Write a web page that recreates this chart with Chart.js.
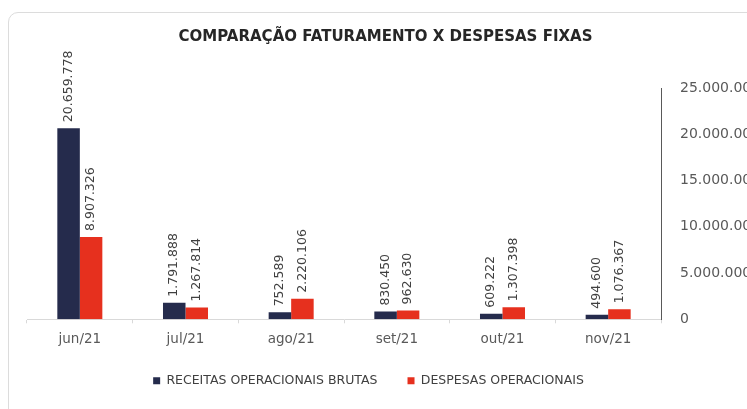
<!DOCTYPE html>
<html>
<head>
<meta charset="utf-8">
<script src="https://cdn.jsdelivr.net/npm/chart.js@4.4.1/dist/chart.umd.min.js"></script>
<style>
  html, body { margin: 0; padding: 0; background: #fff; overflow: hidden; }
  .card {
    position: absolute; left: 8px; top: 12px; width: 800px; height: 430px;
    border: 1px solid #dcdcdc; border-radius: 10px; background: #fff;
  }
  #chart { position: absolute; left: 0; top: 0; }
</style>
</head>
<body>
<div class="card"></div>
<canvas id="chart" width="780" height="409"></canvas>
<script>
// Data
const months = ['jun/21', 'jul/21', 'ago/21', 'set/21', 'out/21', 'nov/21'];
const receitas = [20659778, 1791888, 752589, 830450, 609222, 494600];
const despesas = [8907326, 1267814, 2220106, 962630, 1307398, 1076367];
const yTicks = [0, 5000000, 10000000, 15000000, 20000000, 25000000];

const fmt = v => String(v).replace(/\B(?=(\d{3})+(?!\d))/g, '.');

// Vertical value labels above each bar
const barLabels = {
    id: 'barLabels',
    afterDatasetsDraw(chart) {
        const ctx = chart.ctx;
        ctx.save();
        ctx.font = '12.5px "DejaVu Sans"';
        ctx.fillStyle = '#404040';
        ctx.textAlign = 'left';
        ctx.textBaseline = 'middle';
        chart.data.datasets.forEach((ds, i) => {
            chart.getDatasetMeta(i).data.forEach((bar, j) => {
                ctx.save();
                ctx.translate(bar.x, bar.y - 6);
                ctx.rotate(-Math.PI / 2);
                ctx.fillText(fmt(ds.data[j]), 0, 0);
                ctx.restore();
            });
        });
        ctx.restore();
    }
};

// title and legend sit a bit left of the plot centre in the original
const boxShift = {
    id: 'boxShift',
    afterLayout(chart) {
        chart.titleBlock.left -= 18;
        chart.titleBlock.right -= 18;
        chart.legend.left -= 35;
        chart.legend.right -= 35;
        chart.legend.top -= 11;
        chart.legend.bottom -= 11;
    }
};

new Chart(document.getElementById('chart'), {
    type: 'bar',
    data: {
        labels: months,
        datasets: [
            {
                label: 'RECEITAS OPERACIONAIS BRUTAS',
                data: receitas,
                backgroundColor: '#252b4c'
            },
            {
                label: 'DESPESAS OPERACIONAIS',
                data: despesas,
                backgroundColor: '#e6301e'
            }
        ]
    },
    options: {
        responsive: false,
        animation: false,
        categoryPercentage: 0.426,
        barPercentage: 1,
        layout: { padding: { left: 27, right: 0, top: 12, bottom: 1 } },
        plugins: {
            title: {
                display: true,
                text: 'COMPARAÇÃO FATURAMENTO X DESPESAS FIXAS',
                color: '#262626',
                font: { family: '"DejaVu Sans"', size: 15, weight: 'bold' },
                padding: { top: 16, bottom: 42 }
            },
            legend: {
                position: 'bottom',
                labels: {
                    boxWidth: 7,
                    boxHeight: 7,
                    padding: 30,
                    color: '#404040',
                    font: { family: '"DejaVu Sans"', size: 12.5 }
                }
            },
            tooltip: { enabled: false }
        },
        scales: {
            x: {
                grid: {
                    display: true,
                    drawOnChartArea: false,
                    tickLength: 4,
                    color: '#d9d9d9'
                },
                border: { color: '#d9d9d9' },
                ticks: {
                    color: '#595959',
                    padding: 8,
                    font: { family: '"DejaVu Sans"', size: 13.5 }
                }
            },
            y: {
                position: 'right',
                min: 0,
                max: 25000000,
                afterBuildTicks: scale => { scale.ticks = yTicks.map(v => ({ value: v })); },
                afterFit: scale => { scale.width = 119; },
                grid: { display: false },
                border: { display: true, color: '#595959' },
                ticks: {
                    color: '#595959',
                    padding: 11,
                    font: { family: '"DejaVu Sans"', size: 14 },
                    callback: v => fmt(v)
                }
            }
        }
    },
    plugins: [barLabels, boxShift]
});
</script>
</body>
</html>
